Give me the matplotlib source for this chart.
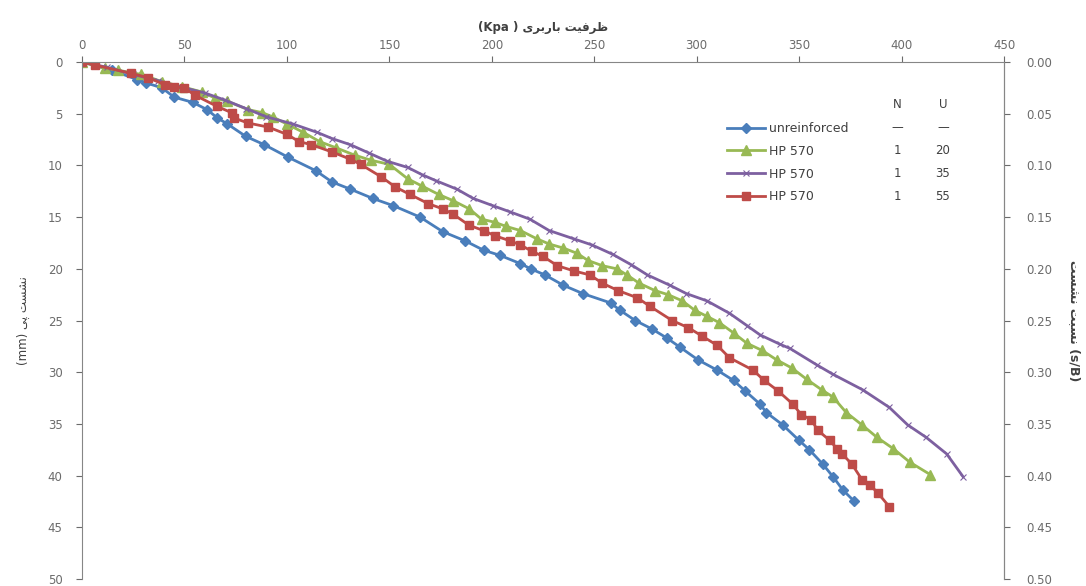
import matplotlib
matplotlib.use("Agg")
import matplotlib.pyplot as plt

# ---- data: bearing pressure (kPa) vs footing settlement (mm) ----
unreinf_load = [0, 14.6, 27, 31, 39, 45, 54, 61, 66, 71, 80, 89, 100.5, 114, 122, 131,
                142, 152, 165, 176, 187, 196, 204, 214, 219, 226, 235, 244.5, 258,
                262.5, 270, 278, 285.5, 292, 300.6, 310, 318, 323.6, 331, 334, 342,
                350, 355, 361.6, 366.5, 371.4, 377]
unreinf_settle = [0, 0.8, 1.7, 2.0, 2.5, 3.4, 3.9, 4.6, 5.4, 6.0, 7.2, 8.0, 9.2, 10.5,
                  11.6, 12.3, 13.2, 13.9, 15.0, 16.4, 17.3, 18.2, 18.7, 19.5, 20.0,
                  20.6, 21.6, 22.4, 23.3, 24.0, 25.0, 25.8, 26.7, 27.6, 28.8, 29.8,
                  30.8, 31.8, 33.1, 33.9, 35.1, 36.6, 37.5, 38.9, 40.1, 41.4, 42.5]

hp20_load = [0, 11, 17.6, 29, 39, 49, 58.6, 65, 71, 81, 88, 93, 100, 108, 116, 124,
             133, 141, 150, 159, 166, 174, 181, 189, 195, 201.5, 207, 214, 222, 228,
             235, 241.6, 247, 254, 261, 266, 272, 279.6, 286, 293, 299, 305, 311,
             318, 324.5, 332, 339, 346.5, 353.8, 361, 366.5, 373, 380.7, 388, 396,
             404, 414]
hp20_settle = [0, 0.6, 0.8, 1.2, 1.9, 2.4, 2.9, 3.5, 3.8, 4.6, 4.9, 5.3, 6.0, 6.8,
               7.7, 8.3, 9.0, 9.5, 9.9, 11.3, 12.0, 12.8, 13.4, 14.2, 15.2, 15.5,
               15.9, 16.3, 17.1, 17.6, 18.0, 18.5, 19.2, 19.7, 20.0, 20.6, 21.4,
               22.1, 22.5, 23.1, 24.0, 24.6, 25.2, 26.2, 27.2, 27.9, 28.8, 29.6,
               30.7, 31.7, 32.4, 33.9, 35.1, 36.3, 37.4, 38.7, 39.9]

hp35_load = [0, 12, 25, 37, 48, 60, 70, 80, 90, 103, 114.7, 122, 131, 140, 149, 159,
             166, 173, 183, 191, 200.6, 209, 218.6, 228, 240, 249, 259, 268, 276,
             287, 295, 305, 316, 324.6, 331, 340.7, 345.5, 358.7, 366.5, 381, 394,
             403, 412, 422, 430]
hp35_settle = [0, 0.5, 1.2, 1.8, 2.4, 3.0, 3.7, 4.5, 5.3, 6.0, 6.8, 7.4, 8.0, 8.8,
               9.6, 10.2, 10.9, 11.5, 12.3, 13.2, 13.9, 14.5, 15.2, 16.3, 17.1, 17.7,
               18.6, 19.6, 20.6, 21.6, 22.4, 23.1, 24.3, 25.5, 26.4, 27.3, 27.7,
               29.3, 30.2, 31.7, 33.4, 35.1, 36.3, 37.9, 40.1]

hp55_load = [0, 6.3, 24, 32, 40.5, 45, 50, 55, 66, 73, 74, 81, 91, 100, 106, 112, 122,
             131, 136, 146, 153, 160, 169, 176, 181, 189, 196, 201.5, 209, 214, 219.6,
             225, 232, 240, 248, 254, 261.6, 271, 277, 288, 296, 302.6, 310, 316,
             327.5, 333, 339.7, 347, 351, 356, 359, 365, 368.5, 371, 375.8, 380.7,
             384.6, 388.5, 394]
hp55_settle = [0, 0.3, 1.1, 1.5, 2.2, 2.4, 2.5, 3.2, 4.3, 4.9, 5.4, 5.9, 6.3, 7.0, 7.7,
               8.0, 8.7, 9.4, 9.9, 11.1, 12.1, 12.8, 13.7, 14.2, 14.7, 15.8, 16.3,
               16.8, 17.3, 17.7, 18.3, 18.8, 19.7, 20.2, 20.6, 21.4, 22.1, 22.8, 23.6,
               25.0, 25.7, 26.5, 27.4, 28.6, 29.8, 30.8, 31.8, 33.1, 34.1, 34.6, 35.6,
               36.6, 37.4, 37.9, 38.9, 40.4, 40.9, 41.7, 43.0]

series_labels = ["unreinforced", "HP 570", "HP 570", "HP 570"]
col_n = ["\u2014", "1", "1", "1"]
col_u = ["\u2014", "20", "35", "55"]

x_ticks = list(range(0, 451, 50))
y_ticks = list(range(0, 51, 5))
ratio_ticks = [i / 100 for i in range(0, 51, 5)]

# ---- minimal Persian shaping (presentation forms, visual order) ----
FORMS = {  # isolated, final, initial, medial
    "\u0627": ("\uFE8D", "\uFE8E", None, None),
    "\u0628": ("\uFE8F", "\uFE90", "\uFE91", "\uFE92"),
    "\u067E": ("\uFB56", "\uFB57", "\uFB58", "\uFB59"),
    "\u062A": ("\uFE95", "\uFE96", "\uFE97", "\uFE98"),
    "\u0631": ("\uFEAD", "\uFEAE", None, None),
    "\u0633": ("\uFEB1", "\uFEB2", "\uFEB3", "\uFEB4"),
    "\u0634": ("\uFEB5", "\uFEB6", "\uFEB7", "\uFEB8"),
    "\u0638": ("\uFEC5", "\uFEC6", "\uFEC7", "\uFEC8"),
    "\u0641": ("\uFED1", "\uFED2", "\uFED3", "\uFED4"),
    "\u0646": ("\uFEE5", "\uFEE6", "\uFEE7", "\uFEE8"),
    "\u06CC": ("\uFBFC", "\uFBFD", "\uFBFE", "\uFBFF"),
}


def rtl(text):
    out = []
    for word in text.split(" "):
        shaped = []
        for i, ch in enumerate(word):
            f = FORMS.get(ch)
            if f is None:
                shaped.append(ch)
                continue
            prev = FORMS.get(word[i - 1]) if i > 0 else None
            nxt = FORMS.get(word[i + 1]) if i + 1 < len(word) else None
            jp = prev is not None and prev[2] is not None
            jn = nxt is not None and f[2] is not None
            if jp and jn:
                shaped.append(f[3])
            elif jp:
                shaped.append(f[1])
            elif jn:
                shaped.append(f[2])
            else:
                shaped.append(f[0])
        out.append("".join(shaped))
    return " ".join(out)[::-1]


GREY = "#6b6b6b"
DARK = "#404040"
plt.rcParams["font.family"] = ["DejaVu Sans"]

fig = plt.figure(figsize=(10.86, 5.86), dpi=100)
W, H = 1086, 586
ax = fig.add_axes([82 / W, 1 - 579 / H, (1004 - 82) / W, (579 - 62) / H])

styles = [
    dict(color="#4A7EBB", marker="D", markersize=5.5),
    dict(color="#98B954", marker="^", markersize=6.5),
    dict(color="#7D60A0", marker="x", markersize=5, markeredgewidth=0.8),
    dict(color="#BE4B48", marker="s", markersize=5.5),
]
data = [(unreinf_load, unreinf_settle), (hp20_load, hp20_settle),
        (hp35_load, hp35_settle), (hp55_load, hp55_settle)]
handles = []
for (xs, ys), st, lab in zip(data, styles, series_labels):
    ln, = ax.plot(xs, ys, linewidth=2, label=lab, **st)
    handles.append(ln)

ax.set_xlim(0, 450)
ax.set_ylim(50, 0)
ax.set_xticks(x_ticks)
ax.set_yticks(y_ticks)
ax.xaxis.tick_top()
ax.xaxis.set_label_position("top")
ax.tick_params(axis="both", labelsize=8.5, colors=GREY, length=4, width=0.8)
ax.tick_params(axis="x", pad=3)
ax.tick_params(axis="y", pad=10)
for s in ["top", "left", "right"]:
    ax.spines[s].set_color("#868686")
ax.spines["bottom"].set_visible(False)

ax.set_xlabel("(Kpa ) " + rtl("ظرفیت باربری"), fontsize=8.5, color=DARK,
              fontweight="bold", labelpad=6)
ax.set_ylabel("(mm) " + rtl("نشست پی"), fontsize=8.5, color=DARK, labelpad=13)

ax2 = ax.twinx()
ax2.set_ylim(0.5, 0)
ax2.set_yticks(ratio_ticks)
ax2.set_yticklabels([f"{v:.2f}" for v in ratio_ticks])
ax2.tick_params(axis="y", labelsize=8.5, colors=GREY, length=4, width=0.8, pad=12)
ax2.spines["right"].set_color("#868686")
for s in ["top", "left", "bottom"]:
    ax2.spines[s].set_visible(False)
ax2.set_ylabel(rtl("نسبت نشست") + " (s/B)", fontsize=9, color=DARK,
               rotation=270, labelpad=21, fontweight="bold")

leg = ax.legend(handles, series_labels, loc="upper left",
                bbox_to_anchor=(722 / W, 1 - 117 / H), bbox_transform=fig.transFigure,
                frameon=False, fontsize=9, handlelength=3.0, labelspacing=0.78,
                borderaxespad=0, handletextpad=0.35)
for t in leg.get_texts():
    t.set_color(DARK)

row_y = [128, 151, 173, 196]
fig.text(897 / W, 1 - 105 / H, "N", ha="center", va="center", fontsize=8.5, color=DARK)
fig.text(943 / W, 1 - 105 / H, "U", ha="center", va="center", fontsize=8.5, color=DARK)
for y, n, u in zip(row_y, col_n, col_u):
    fig.text(897 / W, 1 - y / H, n, ha="center", va="center", fontsize=8.5, color=DARK)
    fig.text(943 / W, 1 - y / H, u, ha="center", va="center", fontsize=8.5, color=DARK)

fig.savefig("out.png", dpi=100)
